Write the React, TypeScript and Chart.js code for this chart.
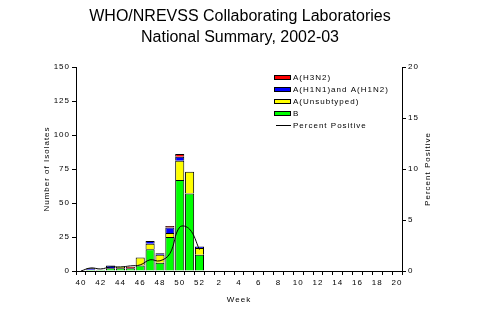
import React, { useEffect, useRef } from 'react';
import { Chart, registerables } from 'chart.js';

Chart.register(...registerables);

// ---- data ----
const weeks = [
  '40', '41', '42', '43', '44', '45', '46', '47', '48', '49', '50', '51', '52',
  '1', '2', '3', '4', '5', '6', '7', '8', '9', '10', '11', '12', '13', '14', '15', '16', '17', '18', '19', '20',
];
const fluB = [0, 1, 1, 2, 2, 2, 4, 16, 6, 25, 67, 57, 12, 0, 0, 0, 0, 0, 0, 0, 0, 0, 0, 0, 0, 0, 0, 0, 0, 0, 0, 0, 0];
const fluAUnsub = [0, 0, 0, 0, 1, 0, 6, 4, 6, 3, 14, 16, 5, 0, 0, 0, 0, 0, 0, 0, 0, 0, 0, 0, 0, 0, 0, 0, 0, 0, 0, 0, 0];
const fluAH1 = [0, 1, 0, 2, 0, 0, 0, 2, 1, 4, 3, 0, 1, 0, 0, 0, 0, 0, 0, 0, 0, 0, 0, 0, 0, 0, 0, 0, 0, 0, 0, 0, 0];
const fluAH3 = [0, 0, 0, 0, 0, 1, 0, 0, 0, 1, 2, 0, 0, 0, 0, 0, 0, 0, 0, 0, 0, 0, 0, 0, 0, 0, 0, 0, 0, 0, 0, 0, 0];
const pctPositive: (number | null)[] = [
  0, 0.3, 0.2, 0.4, 0.4, 0.5, 0.6, 1.1, 1.0, 1.7, 4.3, 4.1, 2.1,
  null, null, null, null, null, null, null, null, null, null, null, null, null, null, null, null, null, null, null, null,
];

const titleLines = ['WHO/NREVSS Collaborating Laboratories', 'National Summary, 2002-03'];
const xTitle = 'Week';
const yTitle = 'Number of Isolates';
const y1Title = 'Percent Positive';
const yMax = 150;
const yStep = 25;
const y1Max = 20;
const y1Step = 5;

const labelH3 = 'A(H3N2)';
const labelH1 = 'A(H1N1)and A(H1N2)';
const labelUnsub = 'A(Unsubtyped)';
const labelB = 'B';
const labelPct = 'Percent Positive';
const legendOrder = [labelH3, labelH1, labelUnsub, labelB, labelPct];

const FONT = "'Liberation Sans', Arial, sans-serif";
const RED = '#FF0000';
const BLUE = '#0000FF';
const YELLOW = '#FFFF00';
const GREEN = '#00FF00';

const decorPlugin = {
  id: 'decor',
  beforeDraw(chart: any) {
    (chart.ctx as any).letterSpacing = '1px';
  },
  afterDraw(chart: any) {
    const ctx = chart.ctx as any;
    const { left, right, top, bottom } = chart.chartArea;
    ctx.save();
    ctx.fillStyle = '#000';
    ctx.textAlign = 'center';
    ctx.textBaseline = 'middle';
    ctx.letterSpacing = '0px';
    ctx.font = `16px ${FONT}`;
    titleLines.forEach((t, i) => ctx.fillText(t, 240, 17 + i * 21));

    ctx.letterSpacing = '1px';
    ctx.font = `8px ${FONT}`;
    ctx.fillText(xTitle, (left + right) / 2, 300);
    ctx.save();
    ctx.translate(47, (top + bottom) / 2);
    ctx.rotate(-Math.PI / 2);
    ctx.fillText(yTitle, 0, 0);
    ctx.restore();
    ctx.save();
    ctx.translate(428, (top + bottom) / 2);
    ctx.rotate(-Math.PI / 2);
    ctx.fillText(y1Title, 0, 0);
    ctx.restore();

    // legend
    ctx.textAlign = 'left';
    const ds = chart.data.datasets;
    legendOrder.forEach((lab, i) => {
      const d = ds.find((x: any) => x.label === lab);
      if (!d) return;
      const y = Math.round(77 + i * 12);
      if (d.type === 'line') {
        ctx.strokeStyle = '#000';
        ctx.lineWidth = 1;
        ctx.beginPath();
        ctx.moveTo(276, y + 0.5);
        ctx.lineTo(291, y + 0.5);
        ctx.stroke();
      } else {
        ctx.fillStyle = d.backgroundColor;
        ctx.fillRect(274, y - 2, 17, 5);
        ctx.strokeStyle = '#000';
        ctx.lineWidth = 1;
        ctx.strokeRect(274.5, y - 1.5, 16, 4);
      }
      ctx.fillStyle = '#000';
      ctx.fillText(lab, 293, y + 1);
    });
    ctx.restore();
  },
};

export default function App() {
  const ref = useRef<HTMLCanvasElement>(null);
  useEffect(() => {
    if (!ref.current) return;
    const tickFont = { family: FONT, size: 8 };
    const barCommon = {
      type: 'bar' as const,
      borderColor: '#000',
      borderWidth: 1,
      barPercentage: 0.92,
      categoryPercentage: 1,
      yAxisID: 'y',
      order: 1,
    };
    const chart = new Chart(ref.current, {
      type: 'bar',
      data: {
        labels: weeks,
        datasets: [
          { ...barCommon, label: labelB, data: fluB, backgroundColor: GREEN },
          { ...barCommon, label: labelUnsub, data: fluAUnsub, backgroundColor: YELLOW },
          { ...barCommon, label: labelH1, data: fluAH1, backgroundColor: BLUE },
          { ...barCommon, label: labelH3, data: fluAH3, backgroundColor: RED },
          {
            type: 'line' as const,
            label: labelPct,
            data: pctPositive,
            borderColor: '#000',
            borderWidth: 1,
            pointRadius: 0,
            tension: 0.4,
            fill: false,
            yAxisID: 'y1',
            order: 0,
          } as any,
        ],
      },
      plugins: [decorPlugin],
      options: {
        responsive: false,
        animation: false,
        layout: { padding: { top: 67, left: 0, right: 0, bottom: 0 } },
        plugins: { legend: { display: false }, title: { display: false }, tooltip: { enabled: false } },
        scales: {
          x: {
            stacked: true,
            offset: true,
            grid: { display: true, drawOnChartArea: false, tickLength: 4, color: '#000', offset: true },
            border: { display: true, color: '#000', width: 1 },
            ticks: {
              autoSkip: false,
              maxRotation: 0,
              minRotation: 0,
              padding: 3,
              color: '#000',
              font: tickFont,
              callback: (_v: any, i: number) => (i % 2 === 0 ? weeks[i] : ''),
            },
            afterFit: (s: any) => { s.height = 41; },
          },
          y: {
            position: 'left',
            stacked: true,
            min: 0,
            max: yMax,
            grid: { display: true, drawOnChartArea: false, tickLength: 4, color: '#000' },
            border: { display: true, color: '#000', width: 1 },
            ticks: { stepSize: yStep, padding: 2, color: '#000', font: tickFont },
            afterFit: (s: any) => { s.width = 76; },
          },
          y1: {
            position: 'right',
            min: 0,
            max: y1Max,
            grid: { display: true, drawOnChartArea: false, tickLength: 4, color: '#000' },
            border: { display: true, color: '#000', width: 1 },
            ticks: { stepSize: y1Step, padding: 2, color: '#000', font: tickFont },
            afterFit: (s: any) => { s.width = 78; },
          },
        },
      } as any,
    });
    return () => chart.destroy();
  }, []);
  return (
    <div style={{ position: 'fixed', left: 0, top: 0, width: 480, height: 312, background: '#fff' }}>
      <canvas ref={ref} width={480} height={312} style={{ display: 'block', width: 480, height: 312 }} />
    </div>
  );
}
